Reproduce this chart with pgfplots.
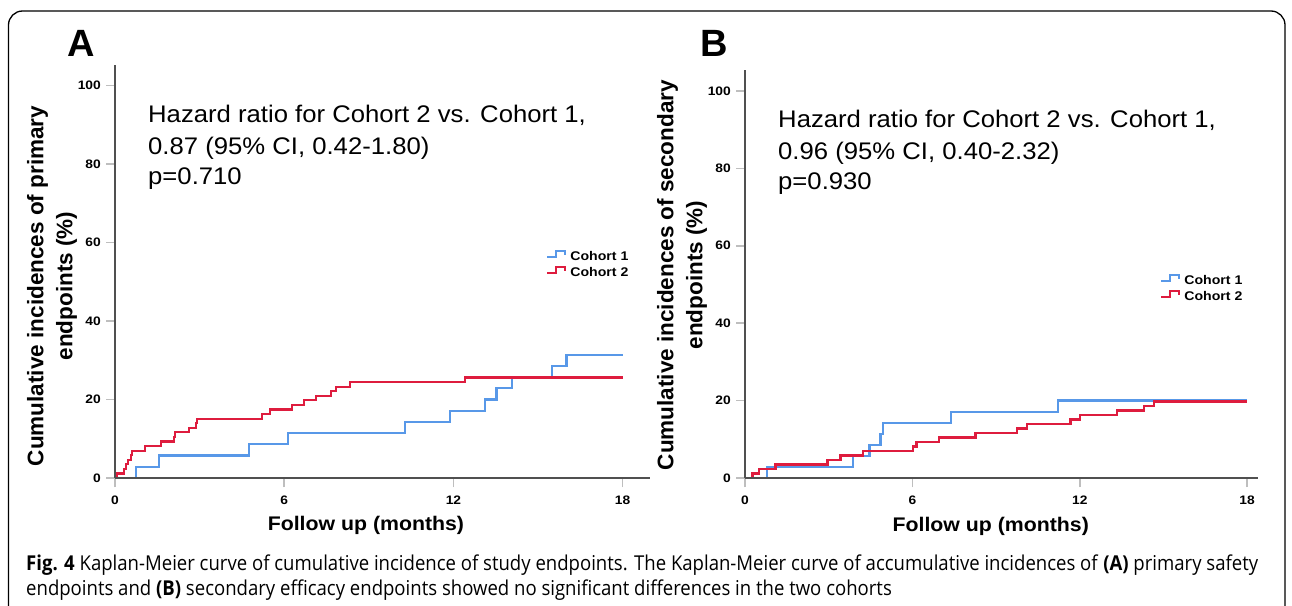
\documentclass[border=0pt]{standalone}
\usepackage{pgfplots}
\pgfplotsset{compat=1.18}
\usepackage{fontspec}
\setmainfont{Liberation Sans}
\newfontfamily\tickfont{Liberation Sans}[FakeStretch=1.12]
\newfontfamily\annfont{Liberation Sans}[FakeStretch=1.07]
\newfontfamily\labfont{Liberation Sans}[FakeStretch=1.08]
\newfontfamily\capfont{Open Sans}
\definecolor{cblue}{RGB}{88,152,232}
\definecolor{cred}{RGB}{222,28,62}
\definecolor{axgray}{RGB}{80,80,80}
\definecolor{tickgray}{RGB}{190,190,190}
\newsavebox\capA
\newlength\capW

\pgfplotsset{
  km/.style={
    scale only axis,
    axis lines*=left,
    axis line style={axgray, line width=2pt},
    xmin=0, ymin=0,
    xtick={0,6,12,18},
    ytick={0,20,40,60,80,100},
    tick align=outside,
    major tick length=9pt,
    tick style={tickgray, line width=1.6pt},
    /pgf/number format/assume math mode=true,
    tick label style={font=\tickfont\bfseries\fontsize{12.3}{12.3}\selectfont},
    yticklabel style={anchor=east, inner sep=0pt, xshift=-5pt},
    xticklabel style={anchor=north, inner sep=0pt, yshift=-9pt},
    clip=false,
    axis on top,
    legend cell align=left,
    legend style={draw=none, fill=none, inner sep=0pt, anchor=north west, row sep=4.5pt,
      font=\tickfont\bfseries\fontsize{12.6}{12.6}\selectfont,
      nodes={inner sep=0pt}, /tikz/every odd column/.append style={column sep=4pt}},
    legend image code/.code={\draw[##1] (0pt,-1pt) -- (9pt,-1pt) -- (9pt,5pt) -- (18pt,5pt) -- (18pt,1.5pt);},
    xlabel style={anchor=base, font=\labfont\bfseries\fontsize{19.7}{19.7}\selectfont},
    ylabel style={anchor=center, align=center, font=\bfseries\fontsize{22.5}{29}\selectfont},
  },
  kmline/.style={const plot, no marks, line width=2.2pt},
}

\begin{document}%
\sbox\capA{\capfont\fontsize{20.5}{20.5}\selectfont \textbf{Fig. 4} Kaplan-Meier curve of cumulative incidence of study endpoints. The Kaplan-Meier curve of accumulative incidences of \textbf{(A)} primary safety}%
\setlength\capW{\wd\capA}%
\pgfmathsetmacro\capsx{1232/\the\capW}%
\begin{tikzpicture}
\useasboundingbox (0pt,0pt) rectangle (1292pt,-605pt);
\fill[white] (0pt,0pt) rectangle (1292pt,-605pt);
\draw[line width=1.3pt, rounded corners=14pt] (8.5pt,-11pt) rectangle (1285pt,-660pt);

% ---------------- Panel A ----------------
\begin{axis}[km, at={(115pt,-478pt)}, anchor=south west,
  width=535pt, height=413pt, xmax=18.97, ymax=105.2,
  xlabel={Follow up (months)},
  ylabel={Cumulative incidences of primary\\endpoints (\%)},
  xlabel style={at={(axis description cs:0.469,-0.1283)}},
  ylabel style={at={(axis description cs:-0.1178,0.465)}},
  legend style={at={(axis description cs:0.8056,0.552)}},
]
\addplot[kmline, cblue] coordinates {
(0,0) (0.75,2.86) (1.56,5.71) (4.76,8.57) (6.12,11.43) (10.27,14.29) (11.88,17.14)
(13.12,20.0) (13.53,22.86) (14.09,25.71) (15.49,28.57) (16.01,31.43) (18,31.43)};
\addlegendentry{Cohort 1}
\addplot[kmline, cred] coordinates {
(0,0) (0.06,1.16) (0.32,2.33) (0.39,3.49) (0.46,4.65) (0.56,5.81) (0.60,6.98)
(1.06,8.14) (1.63,9.30) (2.09,10.47) (2.13,11.63) (2.63,12.79) (2.87,13.95) (2.90,15.12)
(5.22,16.28) (5.50,17.44) (6.27,18.60) (6.70,19.77) (7.13,20.93) (7.65,22.09) (7.84,23.26)
(8.33,24.42) (12.41,25.58) (18,25.58)};
\addlegendentry{Cohort 2}
\end{axis}

% ---------------- Panel B ----------------
\begin{axis}[km, at={(745pt,-478pt)}, anchor=south west,
  width=513pt, height=408pt, xmax=18.39, ymax=105.4,
  xlabel={Follow up (months)},
  ylabel={Cumulative incidences of secondary\\endpoints (\%)},
  xlabel style={at={(axis description cs:0.479,-0.1299)}},
  ylabel style={at={(axis description cs:-0.1228,0.4975)}},
  legend style={at={(axis description cs:0.809,0.5)}},
]
\addplot[kmline, cblue] coordinates {
(0,0) (0.79,2.86) (3.86,5.71) (4.46,8.57) (4.86,11.43) (4.96,14.29) (7.39,17.14)
(11.21,20.0) (18,20.0)};
\addlegendentry{Cohort 1}
\addplot[kmline, cred] coordinates {
(0,0) (0.27,1.16) (0.51,2.33) (1.09,3.49) (2.96,4.65) (3.42,5.81) (4.24,6.98)
(6.01,8.14) (6.15,9.30) (6.94,10.47) (8.26,11.63) (9.74,12.79) (10.1,13.95)
(11.67,15.12) (12.0,16.28) (13.34,17.44) (14.3,18.60) (14.66,19.77) (18,19.77)};
\addlegendentry{Cohort 2}
\end{axis}

% panel letters
\node[anchor=base west, inner sep=0pt] at (67pt,-56pt) {\fontsize{38}{38}\selectfont\bfseries A};
\node[anchor=base west, inner sep=0pt] at (700pt,-56pt) {\fontsize{38}{38}\selectfont\bfseries B};

% annotations
\begin{scope}[every node/.style={anchor=base west, inner sep=0pt, font=\annfont\fontsize{24}{24}\selectfont}]
\node at (148pt,-122pt) {Hazard ratio for Cohort 2 vs. Cohort 1,};
\node at (148pt,-154pt) {0.87 (95\% CI, 0.42-1.80)};
\node at (148pt,-184pt) {p=0.710};
\node at (778pt,-127pt) {Hazard ratio for Cohort 2 vs. Cohort 1,};
\node at (778pt,-159pt) {0.96 (95\% CI, 0.40-2.32)};
\node at (778pt,-189pt) {p=0.930};
\end{scope}

% caption
\node[anchor=base west, inner sep=0pt] at (26pt,-570pt) {\scalebox{\capsx}[1]{\usebox\capA}};
\node[anchor=base west, inner sep=0pt] at (26pt,-595pt) {\scalebox{\capsx}[1]{\capfont\fontsize{20.5}{20.5}\selectfont endpoints and \textbf{(B)} secondary efficacy endpoints showed no significant differences in the two cohorts}};
\end{tikzpicture}%
\end{document}
